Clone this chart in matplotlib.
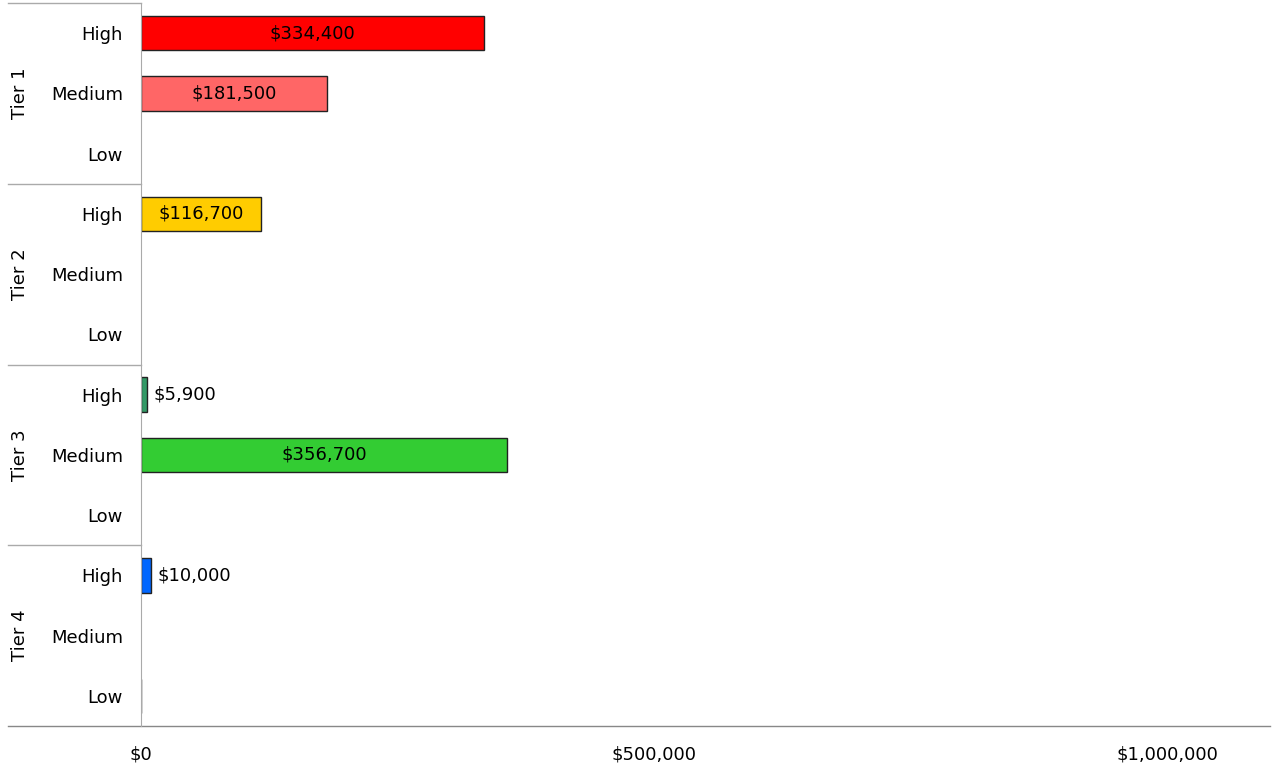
import numpy as np
import matplotlib.pyplot as plt
from matplotlib.transforms import blended_transform_factory

tiers = ["Tier 1", "Tier 2", "Tier 3", "Tier 4"]
levels = ["High", "Medium", "Low"]
# None = no bar at all
tier1 = [334400, 181500, None]
tier2 = [116700, None, None]
tier3 = [5900, 356700, None]
tier4 = [10000, None, 0]
colors = [["#ff0000", "#ff6666", "#ff9999"],
          ["#ffcc00", "#ffdd55", "#ffee99"],
          ["#339966", "#33cc33", "#99dd99"],
          ["#0066ff", "#66a3ff", "#555555"]]
xticks = [0, 500000, 1000000]

plt.rcParams['font.family'] = ['DejaVu Sans']
W, H = 1272, 763
fig = plt.figure(figsize=(W / 100, H / 100), dpi=100)
left, right, top, bottom = 141, 1270, 3, 726
ax = fig.add_axes([left / W, 1 - bottom / H, (right - left) / W, (bottom - top) / H])

values = [tier1, tier2, tier3, tier4]
n = len(tiers) * len(levels)
ypos = np.arange(n)
vals = [v for t in values for v in t]
cols = [c for t in colors for c in t]
for y, v, c in zip(ypos, vals, cols):
    if v is None:
        continue
    ax.barh(y, v, height=0.57, color=c, edgecolor="#222222", linewidth=1)
    if v == 0:
        continue
    label = "${:,}".format(v)
    if v > 50000:
        ax.text(v / 2, y, label, ha="center", va="center", fontsize=13)
    else:
        ax.text(v + 6000, y, label, ha="left", va="center", fontsize=13)

ax.set_xlim(0, 1100000)
ax.set_ylim(n - 0.5, -0.5)

ax.set_yticks(ypos)
ax.set_yticklabels(levels * len(tiers), fontsize=13)
ax.tick_params(axis="y", length=0, pad=13)
ax.set_xticks(xticks)
ax.set_xticklabels(["${:,}".format(x) for x in xticks], fontsize=13)
ax.tick_params(axis="x", length=0, pad=14)

for s in ["top", "right", "bottom"]:
    ax.spines[s].set_visible(False)
ax.spines["left"].set_color("#aaaaaa")

trans = blended_transform_factory(fig.transFigure, ax.transData)
x0 = 8 / W
for i, t in enumerate(tiers):
    yc = i * 3 + 1
    ax.text(20 / W, yc, t, transform=trans, rotation=90, ha="center",
            va="center", fontsize=13)
    ax.plot([x0, left / W], [i * 3 - 0.5] * 2, transform=trans,
            color="#aaaaaa", lw=1, clip_on=False)
ax.plot([x0, right / W], [n - 0.5] * 2, transform=trans,
        color="#888888", lw=1, clip_on=False)

fig.savefig("out.png", dpi=100)
